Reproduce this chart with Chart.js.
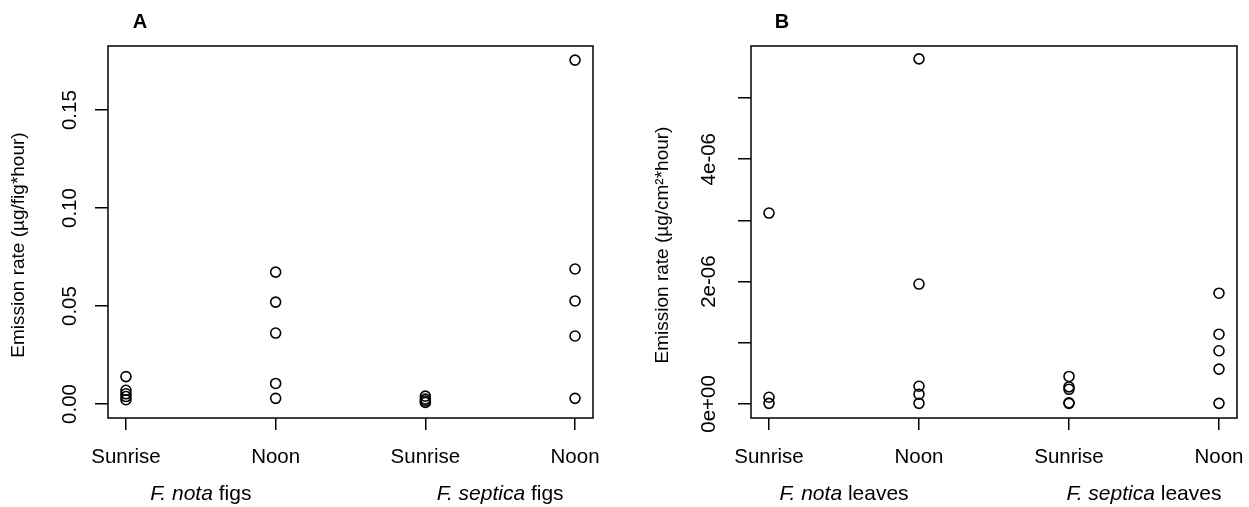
<!DOCTYPE html>
<html lang="en">
  <head>
    <meta charset="UTF-8">
    <title>emission rates</title>
    <style>
      body { margin: 0; background: #fff; }
      .panel { position: absolute; top: 0; }
    </style>
  </head>
  <body>
    <div class="panel" style="left:0px"><canvas id="chartA" width="620" height="507"></canvas></div>
    <div class="panel" style="left:620px"><canvas id="chartB" width="629" height="507"></canvas></div>
    <script src="https://cdn.jsdelivr.net/npm/chart.js"></script>
    <script>
// categories (x positions 1..4)
const timeLabels = ['Sunrise', 'Noon', 'Sunrise', 'Noon'];
const figGroups = [['F. nota', ' figs'], ['F. septica', ' figs']];
const leafGroups = [['F. nota', ' leaves'], ['F. septica', ' leaves']];

// panel A: figs (µg/fig*hour)
const notaFigSunrise = [0.0140, 0.0070, 0.0052, 0.0038, 0.0022];
const notaFigNoon = [0.0673, 0.0520, 0.0362, 0.0105, 0.0029];
const septicaFigSunrise = [0.0040, 0.0025, 0.0015, 0.0008];
const septicaFigNoon = [0.1755, 0.0689, 0.0526, 0.0347, 0.0029];
const ticksA = [0, 0.05, 0.10, 0.15];

// panel B: leaves (µg/cm²*hour)
const notaLeafSunrise = [3.12e-6, 0.11e-6, 0.01e-6];
const notaLeafNoon = [5.64e-6, 1.96e-6, 0.29e-6, 0.16e-6, 0.01e-6];
const septicaLeafSunrise = [0.45e-6, 0.28e-6, 0.24e-6, 0.02e-6, 0.01e-6];
const septicaLeafNoon = [1.81e-6, 1.14e-6, 0.87e-6, 0.57e-6, 0.01e-6];
const ticksB = [0, 1e-6, 2e-6, 3e-6, 4e-6, 5e-6];
const tickLabelsB = ['0e+00', '', '2e-06', '', '4e-06', ''];

const FONT = '"Liberation Sans", Arial, sans-serif';

function toPoints(groups) {
  const pts = [];
  groups.forEach((vals, i) => vals.forEach(v => pts.push({x: i + 1, y: v})));
  return pts;
}

// box round the plot, panel letter, y title and the group names under the axis
const extras = {
  id: 'extras',
  afterDraw(chart, args, opts) {
    const ctx = chart.ctx;
    const a = chart.chartArea;
    ctx.save();
    ctx.strokeStyle = '#000';
    ctx.lineWidth = 1.5;
    ctx.strokeRect(a.left, a.top, a.right - a.left, a.bottom - a.top);

    ctx.fillStyle = '#000';
    ctx.textBaseline = 'middle';
    ctx.textAlign = 'center';
    ctx.font = 'bold 20px ' + FONT;
    ctx.fillText(opts.letter, opts.letterX, 22);

    // y axis title
    ctx.save();
    ctx.translate(opts.titleX, 245);
    ctx.rotate(-Math.PI / 2);
    ctx.font = '19px ' + FONT;
    ctx.fillText(opts.yTitle, 0, 0);
    ctx.restore();

    const xs = chart.scales.x;
    ctx.textAlign = 'left';
    opts.groups.forEach((g, i) => {
      const cx = xs.getPixelForValue(i * 2 + 1.5);
      ctx.font = 'italic 21px ' + FONT;
      const w1 = ctx.measureText(g[0]).width;
      ctx.font = '21px ' + FONT;
      const w2 = ctx.measureText(g[1]).width;
      const x0 = cx - (w1 + w2) / 2;
      ctx.font = 'italic 21px ' + FONT;
      ctx.fillText(g[0], x0, 494);
      ctx.font = '21px ' + FONT;
      ctx.fillText(g[1], x0 + w1, 494);
    });
    ctx.restore();
  }
};

function makeChart(id, groups, yMin, yMax, yTicks, yFmt, cfg) {
  return new Chart(document.getElementById(id), {
    type: 'scatter',
    data: {
      datasets: [{
        data: toPoints(groups),
        borderColor: '#000',
        backgroundColor: 'rgba(0,0,0,0)',
        borderWidth: 1.6,
        pointRadius: 5,
        pointHoverRadius: 5
      }]
    },
    options: {
      responsive: false,
      animation: false,
      layout: { padding: { left: 0, right: cfg.right, top: 46, bottom: 0 } },
      plugins: {
        legend: { display: false },
        tooltip: { enabled: false },
        extras: cfg
      },
      scales: {
        x: {
          type: 'linear',
          min: 0.88,
          max: 4.12,
          afterBuildTicks: s => { s.ticks = [1, 2, 3, 4].map(v => ({value: v})); },
          afterFit: s => { s.height = 89; s.paddingLeft = 0; s.paddingRight = 0; },
          border: { display: false },
          grid: { drawOnChartArea: false, drawTicks: true, tickLength: 12, color: '#000', lineWidth: 1.5 },
          ticks: {
            color: '#000',
            font: { family: FONT, size: 20.5 },
            padding: 15,
            maxRotation: 0,
            callback: v => timeLabels[v - 1]
          }
        },
        y: {
          min: yMin,
          max: yMax,
          afterBuildTicks: s => { s.ticks = yTicks.map(v => ({value: v})); },
          afterFit: s => { s.width = cfg.yWidth; s.paddingTop = 0; s.paddingBottom = 0; },
          border: { display: false },
          grid: { drawOnChartArea: false, drawTicks: true, tickLength: 13, color: '#000', lineWidth: 1.5 },
          ticks: {
            color: '#000',
            font: { family: FONT, size: 20.5 },
            minRotation: 90,
            maxRotation: 90,
            crossAlign: 'center',
            padding: cfg.tickPad,
            callback: yFmt
          }
        }
      }
    },
    plugins: [extras]
  });
}

makeChart('chartA',
  [notaFigSunrise, notaFigNoon, septicaFigSunrise, septicaFigNoon],
  -0.00714, 0.1827, ticksA,
  v => v.toFixed(2),
  { right: 27, yWidth: 108, tickPad: 5, titleX: 19, yTitle: 'Emission rate (µg/fig*hour)',
    letter: 'A', letterX: 140, groups: figGroups });

makeChart('chartB',
  [notaLeafSunrise, notaLeafNoon, septicaLeafSunrise, septicaLeafNoon],
  -0.229e-6, 5.85e-6, ticksB,
  (v, i) => tickLabelsB[i],
  { right: 12, yWidth: 131, tickPad: 0, titleX: 43, yTitle: 'Emission rate (µg/cm²*hour)',
    letter: 'B', letterX: 162, groups: leafGroups });
    </script>
  </body>
</html>
